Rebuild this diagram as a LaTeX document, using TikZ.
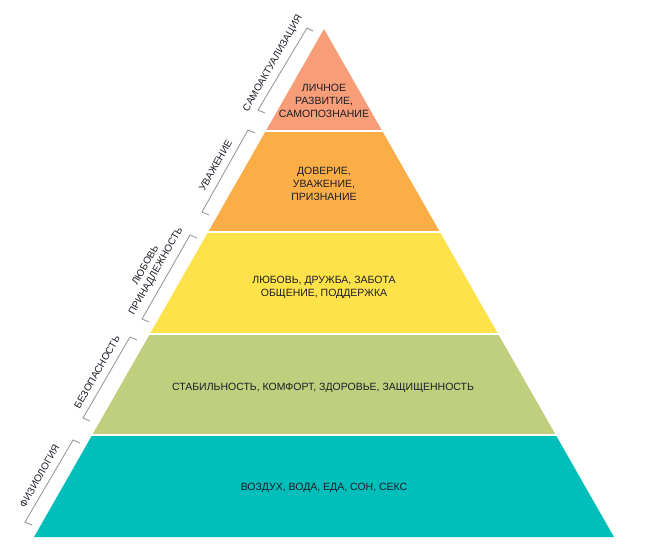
\documentclass[tikz,border=0pt]{standalone}
\usepackage{fontspec}
\setmainfont{Liberation Sans}
\usepackage{xcolor}
\usetikzlibrary{calc}

\definecolor{tierSelf}{HTML}{F79D78}
\definecolor{tierEsteem}{HTML}{FBAE48}
\definecolor{tierLove}{HTML}{FDE24A}
\definecolor{tierSafety}{HTML}{C0CF7D}
\definecolor{tierBody}{HTML}{00BFBB}
\definecolor{inkText}{HTML}{1E1E28}
\definecolor{bracketGray}{HTML}{9A9A9A}

\begin{document}
\begin{tikzpicture}[x=1pt, y=-1pt, every node/.style={font=\fontsize{10.5}{13}\selectfont, align=center, text=inkText, inner sep=0pt}, gap/.style={draw=white, line width=2pt, shorten <=-4pt, shorten >=-4pt}, bracket/.style={draw=bracketGray, line width=0.9pt}, side/.style={rotate=60.3, font=\fontsize{10}{12}\selectfont}]
\useasboundingbox (0,0) rectangle (650,555);

\coordinate (apex) at (324,29);
\coordinate (bl) at (34,537);
\coordinate (br) at (614,537);

% pyramid tiers
\fill[tierSelf] (apex) -- ($(apex)!0.2!(br)$) -- ($(apex)!0.2!(bl)$) -- cycle;
\fill[tierEsteem] ($(apex)!0.2!(bl)$) -- ($(apex)!0.2!(br)$) -- ($(apex)!0.4!(br)$) -- ($(apex)!0.4!(bl)$) -- cycle;
\fill[tierLove] ($(apex)!0.4!(bl)$) -- ($(apex)!0.4!(br)$) -- ($(apex)!0.6!(br)$) -- ($(apex)!0.6!(bl)$) -- cycle;
\fill[tierSafety] ($(apex)!0.6!(bl)$) -- ($(apex)!0.6!(br)$) -- ($(apex)!0.8!(br)$) -- ($(apex)!0.8!(bl)$) -- cycle;
\fill[tierBody] ($(apex)!0.8!(bl)$) -- ($(apex)!0.8!(br)$) -- (br) -- (bl) -- cycle;

\draw[gap] ($(apex)!0.2!(bl)$) -- ($(apex)!0.2!(br)$);
\draw[gap] ($(apex)!0.4!(bl)$) -- ($(apex)!0.4!(br)$);
\draw[gap] ($(apex)!0.6!(bl)$) -- ($(apex)!0.6!(br)$);
\draw[gap] ($(apex)!0.8!(bl)$) -- ($(apex)!0.8!(br)$);

\node (self) at (324,101) {ЛИЧНОЕ\\РАЗВИТИЕ,\\САМОПОЗНАНИЕ};
\node (esteem) at (324,184) {ДОВЕРИЕ,\\УВАЖЕНИЕ,\\ПРИЗНАНИЕ};
\node (love) at (324,287) {ЛЮБОВЬ, ДРУЖБА, ЗАБОТА\\ОБЩЕНИЕ, ПОДДЕРЖКА};
\node (safety) at (323,388) {СТАБИЛЬНОСТЬ, КОМФОРТ, ЗДОРОВЬЕ, ЗАЩИЩЕННОСТЬ};
\node (body) at (324,488) {ВОЗДУХ, ВОДА, ЕДА, СОН, СЕКС};

% side brackets
\draw[bracket] (313,31) -- (307,28) -- (258,110) -- (265,113);
\draw[bracket] (255,133) -- (248,130) -- (202,212) -- (209,215);
\draw[bracket] (197,238) -- (190,235) -- (142,319) -- (149,322);
\draw[bracket] (137,340) -- (130,337) -- (83,418) -- (90,421);
\draw[bracket] (80,443) -- (73,440) -- (25,522) -- (32,525);

\node[side] (selfLabel) at (273,63.5) {САМОАКТУАЛИЗАЦИЯ};
\node[side] (esteemLabel) at (215.5,165.5) {УВАЖЕНИЕ};
\node[side] (loveLabel) at (151,268.5) {ЛЮБОВЬ\\ПРИНАДЛЕЖНОСТЬ};
\node[side] (safetyLabel) at (97,372) {БЕЗОПАСНОСТЬ};
\node[side] (bodyLabel) at (39.5,476) {ФИЗИОЛОГИЯ};
\end{tikzpicture}
\end{document}
